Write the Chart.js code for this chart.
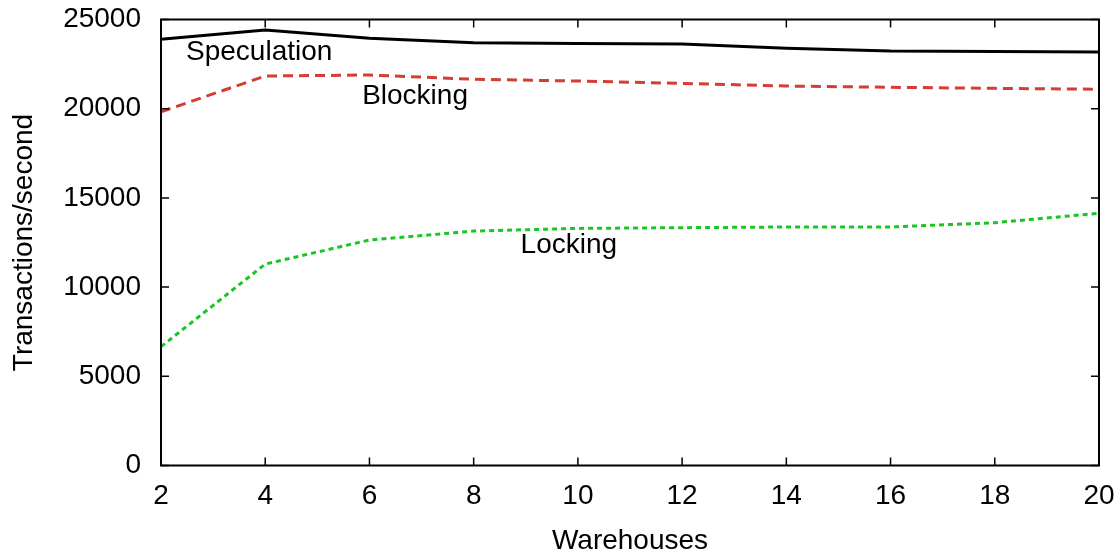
<!DOCTYPE html>
<html>
<head>
<meta charset="utf-8">
<script src="https://cdn.jsdelivr.net/npm/chart.js@4"></script>
<style>
  html, body { margin: 0; padding: 0; background: #fff; }
  #wrap { width: 1120px; height: 555px; }
</style>
</head>
<body>
<div id="wrap"><canvas id="chart" width="1120" height="555"></canvas></div>
<script>
// Data
const warehouses = [2, 4, 6, 8, 10, 12, 14, 16, 18, 20];
const speculation = [23890, 24410, 23950, 23700, 23660, 23630, 23390, 23230, 23200, 23180];
const blocking = [19830, 21830, 21890, 21650, 21550, 21420, 21270, 21200, 21140, 21090];
const locking = [6660, 11290, 12640, 13140, 13290, 13330, 13370, 13370, 13610, 14140];
const yTicks = [0, 5000, 10000, 15000, 20000, 25000];

const FONT = '"Liberation Sans", Helvetica, Arial, sans-serif';

// series name labels placed inside the plot (x, y in data units)
const seriesLabels = [
    { text: 'Speculation', x: 2.48, y: 23180 },
    { text: 'Blocking', x: 5.86, y: 20710 },
    { text: 'Locking', x: 8.9, y: 12360 }
];

// gnuplot-like frame with inward ticks on all four sides
const framePlugin = {
    id: 'frame',
    afterDatasetsDraw(chart) {
        const { ctx, chartArea: a, scales } = chart;
        ctx.save();
        ctx.strokeStyle = '#000';
        ctx.lineWidth = 1.5;
        const t = 8;
        ctx.beginPath();
        warehouses.forEach(v => {
            const px = scales.x.getPixelForValue(v);
            ctx.moveTo(px, a.bottom); ctx.lineTo(px, a.bottom - t);
            ctx.moveTo(px, a.top); ctx.lineTo(px, a.top + t);
        });
        yTicks.forEach(v => {
            const py = scales.y.getPixelForValue(v);
            ctx.moveTo(a.left, py); ctx.lineTo(a.left + t, py);
            ctx.moveTo(a.right, py); ctx.lineTo(a.right - t, py);
        });
        ctx.stroke();
        ctx.lineWidth = 2;
        ctx.strokeRect(a.left, a.top, a.right - a.left, a.bottom - a.top);

        ctx.fillStyle = '#000';
        ctx.font = '28px ' + FONT;
        ctx.textAlign = 'left';
        ctx.textBaseline = 'middle';
        seriesLabels.forEach(l => {
            ctx.fillText(l.text, scales.x.getPixelForValue(l.x), scales.y.getPixelForValue(l.y));
        });
        ctx.restore();
    }
};

const ctx = document.getElementById('chart').getContext('2d');
const chart = new Chart(ctx, {
    type: 'line',
    data: {
        datasets: [
            {
                label: 'Speculation',
                data: warehouses.map((w, i) => ({ x: w, y: speculation[i] })),
                borderColor: '#000000',
                borderWidth: 3,
                pointRadius: 0
            },
            {
                label: 'Blocking',
                data: warehouses.map((w, i) => ({ x: w, y: blocking[i] })),
                borderColor: '#d43d33',
                borderWidth: 3,
                borderDash: [10, 6],
                pointRadius: 0
            },
            {
                label: 'Locking',
                data: warehouses.map((w, i) => ({ x: w, y: locking[i] })),
                borderColor: '#18c622',
                borderWidth: 3,
                borderDash: [5, 4],
                pointRadius: 0
            }
        ]
    },
    options: {
        responsive: false,
        animation: false,
        layout: { padding: { left: 0, right: 21, top: 19.5, bottom: 0 } },
        plugins: {
            legend: { display: false },
            tooltip: { enabled: false }
        },
        scales: {
            x: {
                type: 'linear',
                min: 2,
                max: 20,
                afterFit: s => {
                    s.height = 89.5;
                    s.paddingLeft = 0; s.paddingRight = 0;
                },
                afterBuildTicks: s => { s.ticks = warehouses.map(v => ({ value: v })); },
                grid: { display: false, drawTicks: false },
                border: { display: false },
                ticks: {
                    color: '#000',
                    padding: 14,
                    maxRotation: 0,
                    font: { family: FONT, size: 28 }
                },
                title: {
                    display: true,
                    text: 'Warehouses',
                    color: '#000',
                    padding: { top: 0, bottom: 0 },
                    font: { family: FONT, size: 28, lineHeight: 1 }
                }
            },
            y: {
                min: 0,
                max: 25000,
                afterFit: s => {
                    s.width = 161;
                    s.paddingTop = 0; s.paddingBottom = 0;
                },
                afterBuildTicks: s => { s.ticks = yTicks.map(v => ({ value: v })); },
                grid: { display: false, drawTicks: false },
                border: { display: false },
                ticks: {
                    color: '#000',
                    padding: 20,
                    callback: v => String(v),
                    font: { family: FONT, size: 28 }
                },
                title: {
                    display: true,
                    text: 'Transactions/second',
                    color: '#000',
                    padding: { top: 10, bottom: 0 },
                    font: { family: FONT, size: 28, lineHeight: 1 }
                }
            }
        }
    },
    plugins: [framePlugin]
});
</script>
</body>
</html>
